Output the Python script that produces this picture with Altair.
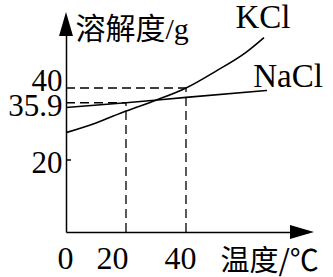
import altair as alt
import pandas as pd

# ---- data ----
temps_kcl = [0, 10, 20, 30, 40, 50, 60, 66]
kcl = [27.6, 30.3, 33.6, 36.6, 40.0, 44.7, 49.9, 54.0]
temps_nacl = [0, 20, 40, 67]
nacl = [34.6, 35.9, 37.4, 39.3]
ref_temps = [20, 40]
ref_vals = [35.9, 40]
y_ticks = [20, 35.9, 40]
x_ticks = [0, 20, 40]

W, H = 242, 214
SERIF = "Liberation Serif"
CJK = "Noto Sans CJK SC"
MIX = "Liberation Serif, Noto Sans CJK SC"

curves = pd.DataFrame(
    {"t": temps_kcl + temps_nacl,
     "v": kcl + nacl,
     "s": ["KCl"] * len(kcl) + ["NaCl"] * len(nacl)}
)
refs = pd.DataFrame({"t": ref_temps, "v": ref_vals, "z": [0, 0]})
ends = pd.DataFrame({"t": [temps_kcl[-1], temps_nacl[-1]],
                     "v": [kcl[-1], nacl[-1]],
                     "s": ["KCl", "NaCl"]})

xs = alt.Scale(domain=[0, 80.67], nice=False, zero=False)
ys = alt.Scale(domain=[0, 59.44], nice=False, zero=False)

x_label_offset = {"condition": [
    {"test": "datum.value == 0", "value": -1},
    {"test": "datum.value == 20", "value": -14}],
    "value": -6}
y_label_offset = {"condition": [
    {"test": "datum.value == 40", "value": -6}],
    "value": 4}

xaxis = alt.Axis(values=x_ticks, ticks=False, grid=False, labelPadding=11,
                 labelFont=SERIF, labelFontSize=32, labelColor="black",
                 labelFlush=False, labelOverlap=False,
                 labelOffset=x_label_offset,
                 domainColor="black", domainWidth=1.5,
                 title="温度/℃", titleFont=CJK, titleFontSize=29,
                 titleFontWeight="normal", titleColor="black",
                 titleAngle=0, titleAlign="left", titleBaseline="middle",
                 titleX=154, titleY=29)
yaxis = alt.Axis(values=y_ticks, format=".1~f", ticks=False, grid=False,
                 labelPadding=4, labelFont=SERIF, labelFontSize=31,
                 labelColor="black", labelFlush=False, labelOverlap=False,
                 labelBaseline="middle", labelOffset=y_label_offset,
                 domainColor="black", domainWidth=1.5,
                 title="溶解度/g", titleFont=MIX, titleFontSize=30,
                 titleFontWeight="normal", titleColor="black",
                 titleAngle=0, titleAlign="left", titleBaseline="middle",
                 titleX=9, titleY=11)


def X(f):
    return alt.X(f, scale=xs, axis=xaxis)


def Y(f):
    return alt.Y(f, scale=ys, axis=yaxis)


lines = alt.Chart(curves).mark_line(color="black", strokeWidth=1.6,
                                    interpolate="monotone").encode(
    x=X("t:Q"), y=Y("v:Q"), detail="s:N",
)

dash = [9, 5]
hdash = alt.Chart(refs).mark_rule(color="black", strokeWidth=1.3,
                                  strokeDash=dash).encode(
    x=X("z:Q"), x2="t:Q", y=Y("v:Q"),
)
vdash = alt.Chart(refs).mark_rule(color="black", strokeWidth=1.3,
                                  strokeDash=dash).encode(
    x=X("t:Q"), y=Y("z:Q"), y2="v:Q",
)

tick20 = alt.Chart(pd.DataFrame({"v": [20]})).mark_rule(
    color="black", strokeWidth=1.5).encode(
    y=Y("v:Q"), x=alt.value(0), x2=alt.value(5),
)

dummy = pd.DataFrame({"a": [0]})
arrow_up = alt.Chart(dummy).mark_point(
    shape="M0,-1L0.58,1L-0.58,1Z", filled=True, size=576,
    color="black", opacity=1, strokeWidth=0).encode(
    x=alt.value(0), y=alt.value(6))
arrow_right = alt.Chart(dummy).mark_point(
    shape="M1,0L-1,-0.58L-1,0.58Z", filled=True, size=576,
    color="black", opacity=1, strokeWidth=0).encode(
    x=alt.value(W - 6), y=alt.value(H))

lab_k = alt.Chart(ends[ends.s == "KCl"]).mark_text(
    font=SERIF, fontSize=33, color="black", align="center",
    baseline="middle", dx=-1, dy=-20).encode(
    x=X("t:Q"), y=Y("v:Q"), text="s:N")
lab_n = alt.Chart(ends[ends.s == "NaCl"]).mark_text(
    font=SERIF, fontSize=33, color="black", align="center",
    baseline="middle", dx=21, dy=-14).encode(
    x=X("t:Q"), y=Y("v:Q"), text="s:N")

chart = alt.layer(
    hdash, vdash, lines, tick20, arrow_up, arrow_right, lab_k, lab_n
).properties(
    width=W, height=H,
    autosize=alt.AutoSizeParams(type="none"),
    padding={"left": 66, "top": 18, "right": 25, "bottom": 45},
    background="white",
).configure_view(stroke=None)

chart.save("out.html", embed_options={"renderer": "svg", "actions": False})
